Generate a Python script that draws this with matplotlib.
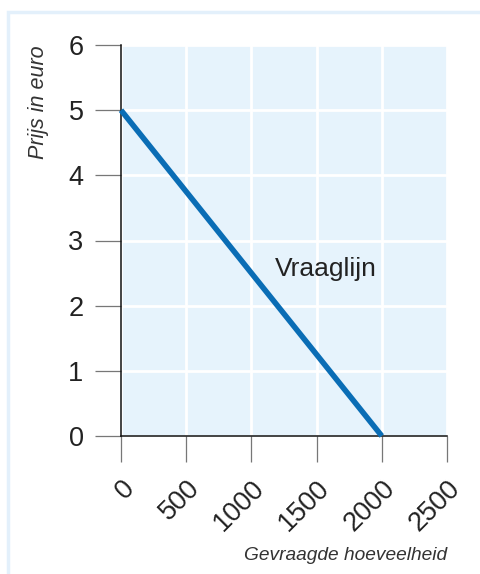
import matplotlib.pyplot as plt
from matplotlib.patches import Rectangle

# demand line data
hoeveelheid = [0, 2000]
prijs = [5, 0]
x_ticks = [0, 500, 1000, 1500, 2000, 2500]
y_ticks = [0, 1, 2, 3, 4, 5, 6]

plt.rcParams['font.family'] = ['Liberation Sans', 'DejaVu Sans']

fig = plt.figure(figsize=(4.8, 5.74), dpi=100)
ax = fig.add_axes([121 / 480, 1 - 436 / 574, 326 / 480, 391 / 574])

# light blue frame round the figure
fig.patches.append(Rectangle((8 / 480, -0.1), 1.2, 1 - 12 / 574 + 0.1,
                             transform=fig.transFigure, fill=False,
                             edgecolor='#e3f0fb', linewidth=2.5))

ax.set_facecolor('#e6f3fc')
ax.plot(hoeveelheid, prijs, color='#0a6db5', linewidth=4,
        solid_capstyle='butt', zorder=3, clip_on=False)
ax.text(1181, 2.455, 'Vraaglijn', fontsize=19, va='baseline', ha='left',
        color='#222222')

ax.set_xlim(0, 2500)
ax.set_ylim(0, 6)
ax.set_xticks(x_ticks)
ax.set_yticks(y_ticks)
ax.set_xticklabels([str(v) for v in x_ticks], rotation=45, ha='right',
                   rotation_mode='anchor', fontsize=19.5, color='#222222')
ax.set_yticklabels([str(v) for v in y_ticks], fontsize=19.5, color='#222222')
ax.tick_params(axis='both', length=19, width=0.9, color='#777777')
ax.tick_params(axis='y', pad=8)
ax.tick_params(axis='x', pad=9)

ax.grid(True, color='white', linewidth=2)
ax.set_axisbelow(True)
for side in ['top', 'right']:
    ax.spines[side].set_visible(False)
for side in ['left', 'bottom']:
    ax.spines[side].set_color('#111111')
    ax.spines[side].set_linewidth(1.1)

fig.text(447 / 480, 1 - 555 / 574, 'Gevraagde hoeveelheid', style='italic',
         fontsize=13.8, ha='right', va='center', color='#333333')
fig.text(38.5 / 480, 1 - 45 / 574, 'Prijs in euro', style='italic',
         fontsize=15.5, rotation=90, ha='center', va='top', color='#333333')

fig.savefig('out.png', dpi=100)
